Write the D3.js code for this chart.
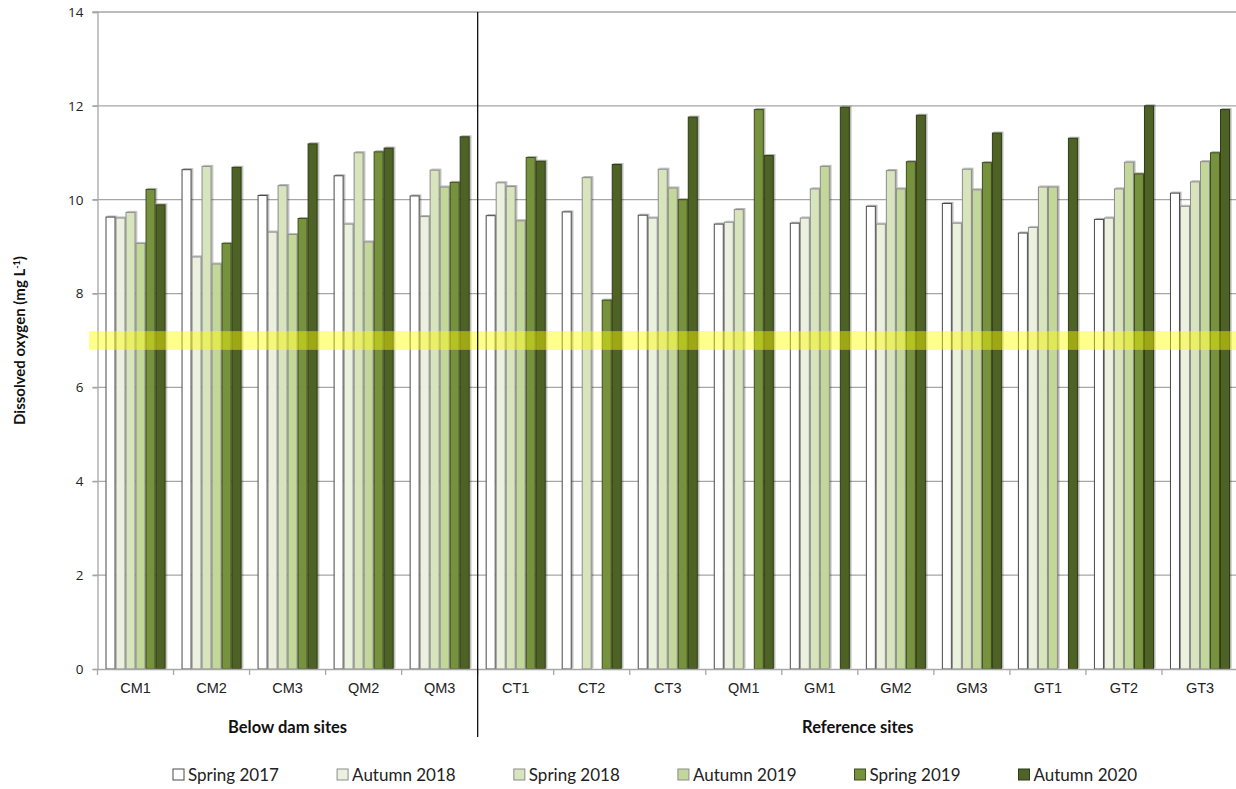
<!DOCTYPE html>
<html>
<head>
<meta charset="utf-8">
<script src="https://cdn.jsdelivr.net/npm/d3@7"></script>
<style>
  html, body { margin: 0; padding: 0; background: #fff; }
  svg { display: block; font-family: Lato, "Open Sans", sans-serif; }
</style>
</head>
<body>
<svg id="chart" width="1236" height="789"></svg>
<script>
// Sampling sites, below-dam sites first, then reference sites
const sites = ["CM1","CM2","CM3","QM2","QM3","CT1","CT2","CT3","QM1","GM1","GM2","GM3","GT1","GT2","GT3"];
const belowDamCount = 5;

// Sampling events (series)
const seasons = ["Spring 2017","Autumn 2018","Spring 2018","Autumn 2019","Spring 2019","Autumn 2020"];

// Dissolved oxygen (mg/L) per season, one value per site (null = not sampled)
const spring2017 = [9.63, 10.64, 10.09, 10.51, 10.08, 9.66, 9.74, 9.67, 9.48, 9.50, 9.86, 9.92, 9.29, 9.58, 10.14];
const autumn2018 = [9.61, 8.78, 9.31, 9.48, 9.64, 10.36, null, 9.61, 9.52, 9.61, 9.48, 9.50, 9.41, 9.61, 9.86];
const spring2018 = [9.73, 10.71, 10.30, 11.00, 10.63, 10.28, 10.47, 10.65, 9.79, 10.23, 10.62, 10.65, 10.27, 10.23, 10.38];
const autumn2019 = [9.07, 8.63, 9.26, 9.10, 10.27, 9.55, null, 10.25, null, 10.71, 10.23, 10.21, 10.27, 10.80, 10.81];
const spring2019 = [10.22, 9.07, 9.60, 11.02, 10.37, 10.90, 7.86, 10.00, 11.92, null, 10.81, 10.79, null, 10.55, 11.00];
const autumn2020 = [9.89, 10.69, 11.19, 11.10, 11.34, 10.82, 10.75, 11.76, 10.94, 11.97, 11.80, 11.42, 11.31, 12.00, 11.92];
const seriesValues = [spring2017, autumn2018, spring2018, autumn2019, spring2019, autumn2020];

// Y axis ticks
const yTicks = [0, 2, 4, 6, 8, 10, 12, 14];

// Highlighted reference band (mg/L)
const bandLow = 6.8, bandHigh = 7.2;

// Styles
const fills   = ["#ffffff", "#ebf1de", "#d8e4bc", "#c4d79b", "#76923c", "#4f6228"];
const strokes = ["#4a4a4a", "#8c8c8c", "#8c8c8c", "#8c8c8c", "#3d4c1f", "#2f3b17"];

const svg = d3.select("#chart");
const margin = { left: 97.5, right: 0, top: 12, bottom: 120 };
const W = 1238, H = 789;

const x = d3.scaleBand().domain(sites).range([margin.left, W]).paddingInner(0).paddingOuter(0);
const groupPad = 8;
const x1 = d3.scaleBand().domain(seasons)
  .range([groupPad, x.bandwidth() - groupPad]).padding(0);
const y = d3.scaleLinear().domain([0, 14]).range([669, 12]);

// drop shadow for bars
const defs = svg.append("defs");
const f = defs.append("filter").attr("id", "shadow").attr("x", "-50%").attr("y", "-5%").attr("width", "200%").attr("height", "110%");
f.append("feDropShadow").attr("dx", 1.5).attr("dy", -1).attr("stdDeviation", 0.7)
  .attr("flood-color", "#000").attr("flood-opacity", 0.3);

// gridlines
svg.append("g")
  .selectAll("line").data(yTicks.filter(d => d > 0)).join("line")
  .attr("x1", margin.left - 5).attr("x2", W)
  .attr("y1", d => y(d)).attr("y2", d => y(d))
  .attr("stroke", "#a6a6a6").attr("stroke-width", 1.3);

// y axis
const yAxis = svg.append("g").attr("transform", `translate(${margin.left},0)`)
  .call(d3.axisLeft(y).tickValues(yTicks).tickSize(5).tickPadding(9));
yAxis.select(".domain").attr("stroke", "#a6a6a6").attr("stroke-width", 1.3);
yAxis.selectAll(".tick line").attr("stroke", "#a6a6a6").attr("stroke-width", 1.3);
yAxis.selectAll(".tick text").attr("font-family", "'Open Sans', sans-serif").attr("font-size", 13.5).attr("fill", "#222");

// bars
const rows = sites.map((s, i) => ({ site: s, vals: seasons.map((k, j) => ({ season: k, j, v: seriesValues[j][i] })) }));
const groups = svg.append("g").selectAll("g").data(rows).join("g")
  .attr("transform", d => `translate(${x(d.site)},0)`);
groups.selectAll("rect").data(d => d.vals.filter(e => e.v != null)).join("rect")
  .attr("x", d => x1(d.season) + 0.5)
  .attr("width", x1.bandwidth() - 1)
  .attr("y", d => y(d.v))
  .attr("height", d => y(0) - y(d.v))
  .attr("fill", d => fills[d.j])
  .attr("stroke", d => strokes[d.j])
  .attr("stroke-width", 1)
  .attr("filter", "url(#shadow)");

// x axis
const xAxis = svg.append("g").attr("transform", `translate(0,${y(0)})`)
  .call(d3.axisBottom(x).tickSize(0).tickPadding(14));
xAxis.select(".domain").attr("stroke", "#a6a6a6").attr("stroke-width", 1.3);
xAxis.selectAll(".tick text").attr("font-size", 14.5).attr("fill", "#222");
svg.append("g").selectAll("line").data(sites.map(s => x(s)).concat([W])).join("line")
  .attr("x1", d => d).attr("x2", d => d)
  .attr("y1", y(0)).attr("y2", y(0) + 6)
  .attr("stroke", "#a6a6a6").attr("stroke-width", 1.3);

// threshold band
svg.append("rect")
  .attr("x", 89).attr("width", W - 89)
  .attr("y", y(bandHigh)).attr("height", y(bandLow) - y(bandHigh))
  .attr("fill", "#ffff00").attr("opacity", 0.45);

// separator between site groups
const sepX = x(sites[belowDamCount]);
svg.append("line")
  .attr("x1", sepX).attr("x2", sepX).attr("y1", 12).attr("y2", 737)
  .attr("stroke", "#111").attr("stroke-width", 1.3);

// group titles
svg.append("text").attr("x", (margin.left + sepX) / 2).attr("y", 733)
  .attr("text-anchor", "middle").attr("font-weight", "bold").attr("font-size", 16.5).attr("fill", "#111")
  .text("Below dam sites");
svg.append("text").attr("x", (sepX + W) / 2).attr("y", 733)
  .attr("text-anchor", "middle").attr("font-weight", "bold").attr("font-size", 16.5).attr("fill", "#111")
  .text("Reference sites");

// y axis title
const yt = svg.append("text")
  .attr("transform", `translate(25,${(y(0) + y(14)) / 2}) rotate(-90)`)
  .attr("text-anchor", "middle").attr("font-weight", "bold").attr("font-size", 15).attr("fill", "#111");
yt.append("tspan").text("Dissolved oxygen  (mg L");
yt.append("tspan").attr("baseline-shift", "super").attr("font-size", 9).text("-1");
yt.append("tspan").text(")");

// legend
const legend = svg.append("g").attr("transform", "translate(0,775)");
const items = legend.selectAll("g").data(seasons).join("g");
items.append("rect").attr("x", 0).attr("y", -6).attr("width", 11).attr("height", 11)
  .attr("fill", (d, i) => fills[i]).attr("stroke", (d, i) => strokes[i]).attr("stroke-width", 1);
items.append("text").attr("x", 15).attr("y", 0).attr("dy", "0.35em")
  .attr("font-size", 17).attr("fill", "#222").text(d => d);
let widths = [];
items.each(function () { widths.push(this.getBBox().width); });
const gap = 58;
let cx = 173;
items.attr("transform", (d, i) => { const t = `translate(${cx},0)`; cx += widths[i] + gap; return t; });
</script>
</body>
</html>
